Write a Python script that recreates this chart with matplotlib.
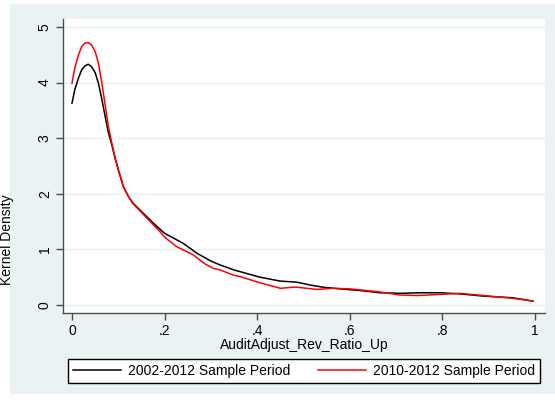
import matplotlib
matplotlib.use("Agg")
import matplotlib.pyplot as plt
from matplotlib.patches import Rectangle

# kernel density estimates
x_full = [0.0, 0.006, 0.014, 0.021, 0.028, 0.035, 0.042, 0.05, 0.057, 0.064,
          0.071, 0.078, 0.086, 0.093, 0.1, 0.111, 0.122, 0.132, 0.154, 0.176,
          0.2, 0.24, 0.27, 0.3, 0.32, 0.35, 0.363, 0.406, 0.45, 0.486, 0.514,
          0.542, 0.579, 0.622, 0.665, 0.708, 0.752, 0.795, 0.838, 0.888,
          0.952, 0.996]
y_full = [3.63, 3.87, 4.08, 4.23, 4.30, 4.33, 4.29, 4.18, 3.99, 3.72,
          3.42, 3.12, 2.88, 2.64, 2.43, 2.13, 1.95, 1.83, 1.65, 1.47,
          1.29, 1.11, 0.93, 0.79, 0.72, 0.63, 0.6, 0.5, 0.43, 0.41, 0.36,
          0.32, 0.29, 0.26, 0.22, 0.21, 0.22, 0.22, 0.2, 0.16,
          0.13, 0.07]

x_late = [0.0, 0.006, 0.014, 0.021, 0.028, 0.035, 0.042, 0.05, 0.057, 0.064,
          0.071, 0.078, 0.086, 0.093, 0.1, 0.111, 0.122, 0.132, 0.154, 0.176,
          0.19, 0.2, 0.226, 0.262, 0.287, 0.305, 0.32, 0.348, 0.363, 0.406,
          0.45, 0.478, 0.486, 0.529, 0.564, 0.6, 0.66, 0.708, 0.745, 0.795,
          0.838, 0.888, 0.952, 0.996]
y_late = [3.99, 4.26, 4.50, 4.65, 4.71, 4.72, 4.68, 4.56, 4.35, 4.02,
          3.63, 3.24, 2.91, 2.66, 2.44, 2.13, 1.95, 1.82, 1.63, 1.44,
          1.32, 1.22, 1.05, 0.9, 0.74, 0.66, 0.63, 0.54, 0.51, 0.4,
          0.3, 0.32, 0.32, 0.28, 0.3, 0.29, 0.24, 0.18, 0.17, 0.19,
          0.21, 0.17, 0.12, 0.07]

x_ticks = [0, 0.2, 0.4, 0.6, 0.8, 1.0]
x_tick_labels = ["0", ".2", ".4", ".6", ".8", "1"]
y_ticks = [0, 1, 2, 3, 4, 5]
series_labels = ["2002-2012 Sample Period", "2010-2012 Sample Period"]

bg = "#EAF2F3"
axis_col = "#4d4d4d"

plt.rcParams["font.family"] = ["Liberation Sans", "DejaVu Sans"]
plt.rcParams["font.size"] = 10

fig = plt.figure(figsize=(5.55, 4.05), dpi=100, facecolor="white")
# stata-like outer graph region, drawn below the axes
fig.patches.append(Rectangle((10 / 555, 11 / 405), 1.0, 390 / 405,
                             transform=fig.transFigure, facecolor=bg,
                             edgecolor="none", zorder=-5))

ax = fig.add_axes([63 / 555, 92 / 405, 482 / 555, 294 / 405])
ax.set_facecolor("white")

l1, = ax.plot(x_full, y_full, color="black", lw=1.1)
l2, = ax.plot(x_late, y_late, color="red", lw=1.1)

ax.set_xlim(-0.0194, 1.0216)
ax.set_ylim(-0.144, 5.144)
ax.set_xticks(x_ticks)
ax.set_xticklabels(x_tick_labels)
ax.set_yticks(y_ticks)
ax.set_yticklabels([str(v) for v in y_ticks], rotation=90, va="center")

for s in ["top", "right"]:
    ax.spines[s].set_visible(False)
for s in ["left", "bottom"]:
    ax.spines[s].set_color(axis_col)
    ax.spines[s].set_linewidth(1.0)
ax.tick_params(direction="out", length=5, width=1.0, color=axis_col,
               labelsize=10, pad=3)
ax.yaxis.grid(True, color=bg, lw=1.0)
ax.set_axisbelow(True)

ax.set_xlabel("AuditAdjust_Rev_Ratio_Up", fontsize=10, labelpad=0)

fig.text(7.5 / 555, 165 / 405, "Kernel Density", rotation=90, ha="center",
         va="center", fontsize=10)

leg = fig.legend([l1, l2], series_labels, ncol=2, loc="center",
                 bbox_to_anchor=(68 / 555, 21 / 405, 472 / 555, 26 / 405),
                 mode="expand", frameon=True, fancybox=False,
                 edgecolor="black", framealpha=1, handlelength=3.5,
                 handletextpad=0.5, columnspacing=1.2, borderpad=0.35,
                 borderaxespad=0, fontsize=10)
leg.get_frame().set_linewidth(1.0)

fig.savefig("out.png", dpi=100, facecolor="white")
